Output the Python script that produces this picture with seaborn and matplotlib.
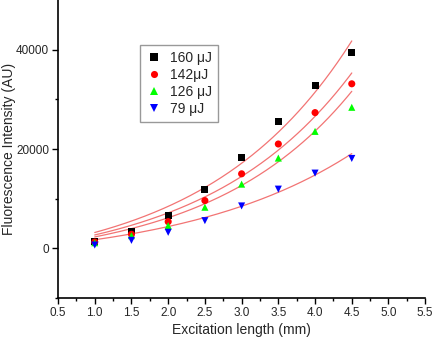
import matplotlib
matplotlib.use("Agg")
import matplotlib.pyplot as plt
import matplotlib.ticker as ticker
import seaborn as sns
import numpy as np
import pandas as pd

length_mm = [1.0, 1.5, 2.0, 2.5, 3.0, 3.5, 4.0, 4.5]
i_160 = [1470, 3350, 6590, 11900, 18380, 25570, 32850, 39390]
i_142 = [1270, 2830, 5380, 9620, 15010, 21010, 27330, 33130]
i_126 = [1130, 2560, 4570, 8280, 12930, 18180, 23550, 28400]
i_79 = [670, 1610, 3230, 5580, 8540, 11920, 15150, 18100]

labels = ["160 \u03bcJ", "142\u03bcJ", "126 \u03bcJ", "79 \u03bcJ"]
colors = ["#000000", "#ff0000", "#00ff00", "#0000ff"]
markers = ["s", "o", "^", "v"]

# Fit parameters for I = A * (exp(g*L) - 1)
fit_amp = [4920, 4160, 3370, 3220]
fit_gain = [0.50, 0.50, 0.52, 0.43]


def main():
    sns.set_style("ticks")
    plt.rcParams["font.family"] = ["Liberation Sans", "DejaVu Sans"]

    series = [i_160, i_142, i_126, i_79]
    rows = []
    for lab, vals in zip(labels, series):
        for x, y in zip(length_mm, vals):
            rows.append({"L": x, "I": y, "pulse": lab})
    df = pd.DataFrame(rows)

    fit_rows = []
    xs = np.linspace(length_mm[0], length_mm[-1], 200)
    for lab, a, g in zip(labels, fit_amp, fit_gain):
        for x in xs:
            fit_rows.append({"L": x, "I": a * (np.exp(g * x) - 1), "pulse": lab})
    fit_df = pd.DataFrame(fit_rows)

    fig = plt.figure(figsize=(4.33, 3.41), dpi=100)
    ax = fig.add_axes([0.134, 0.126, 0.848, 0.874])

    sns.lineplot(data=fit_df, x="L", y="I", units="pulse", estimator=None,
                 color="#f27474", linewidth=0.9, ax=ax, legend=False)

    sns.scatterplot(data=df, x="L", y="I", hue="pulse", style="pulse",
                    palette=dict(zip(labels, colors)),
                    markers=dict(zip(labels, markers)),
                    hue_order=labels, style_order=labels,
                    s=26, linewidth=0, ax=ax, zorder=3)

    ax.set_xlim(0.5, 5.5)
    ax.set_ylim(-10000, 50000)
    ax.xaxis.set_major_locator(ticker.MultipleLocator(0.5))
    ax.xaxis.set_minor_locator(ticker.MultipleLocator(0.25))
    ax.xaxis.set_major_formatter(ticker.FormatStrFormatter("%.1f"))
    ax.yaxis.set_major_locator(ticker.FixedLocator([0, 20000, 40000]))
    ax.yaxis.set_minor_locator(ticker.FixedLocator([-10000, 10000, 30000]))

    ax.tick_params(which="major", direction="out", length=4.5, width=1,
                   labelsize=8.5, pad=2, color="black")
    ax.tick_params(which="minor", direction="out", length=2.5, width=1,
                   color="black")

    for side in ["top", "right"]:
        ax.spines[side].set_visible(False)
    for side in ["left", "bottom"]:
        ax.spines[side].set_linewidth(1.2)
        ax.spines[side].set_color("black")

    ax.set_xlabel("Excitation length (mm)", fontsize=10, labelpad=3)
    ax.set_ylabel("Fluorescence Intensity (AU)", fontsize=10)
    ax.yaxis.set_label_coords(-0.115, 0.5)

    leg = ax.legend(loc="upper left", bbox_to_anchor=(0.223, 0.849),
                    borderaxespad=0, fontsize=10, frameon=True, fancybox=False,
                    labelspacing=0.2, handletextpad=0.6, borderpad=0.45,
                    handlelength=1.1, markerscale=1.0)
    leg.get_frame().set_edgecolor("#808080")
    leg.get_frame().set_linewidth(1.0)

    fig.savefig("out.png", dpi=100)


if __name__ == "__main__":
    main()
